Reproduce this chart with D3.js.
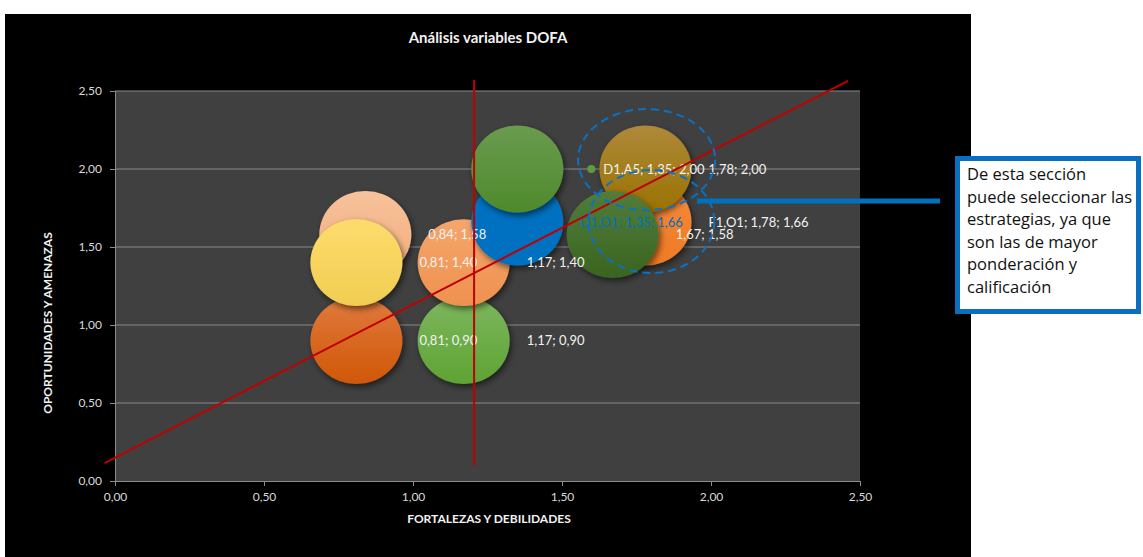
<!DOCTYPE html>
<html>
<head>
<meta charset="utf-8">
<script src="https://cdn.jsdelivr.net/npm/d3@7"></script>
<style>
  html, body { margin: 0; padding: 0; background: #ffffff; }
  svg { display: block; }
</style>
</head>
<body>
<svg id="chart" width="1143" height="557"></svg>
<script>
// DOFA matrix points: strengths/weaknesses (x) vs opportunities/threats (y)
const pointX    = [0.84, 0.81, 0.81, 1.17, 1.17, 1.35, 1.35, 1.78, 1.78, 1.67];
const pointY    = [1.58, 0.90, 1.40, 0.90, 1.40, 1.66, 2.00, 1.66, 2.00, 1.58];
const pointSize = [1, 1, 1, 1, 1, 1, 1, 1, 1, 1];
const pointName = ["", "", "", "", "", "D1,O1", "D1,A5", "F1,O1", "", ""];
const pointColorTop    = ["#f7c29c", "#e07a3e", "#fedc6c", "#7db75f", "#f5a66c", "#0071c1", "#6a9b4e", "#f68b3a", "#ae893a", "#517d3d"];
const pointColorBottom = ["#f2ab79", "#d05706", "#f1cd52", "#5ea332", "#ef914f", "#0070c0", "#4e8a2c", "#ef7a24", "#9a7200", "#3a6420"];

const tickValues = [0, 0.5, 1.0, 1.5, 2.0, 2.5];

// Reference lines of the quadrant split (data coordinates)
const splitLineV = [[1.205, 0.10], [1.205, 2.57]];
const trendLine  = [[-0.035, 0.115], [2.46, 2.565]];

// Dashed highlight rings around the selected strategies (data coordinates)
const ringCx = [1.784, 1.80];
const ringCy = [2.06, 1.663];
const ringRx = [0.23, 0.211];
const ringRy = [0.324, 0.33];

const calloutLines = ["De esta sección", "puede seleccionar las", "estrategias, ya que",
                      "son las de mayor", "ponderación y", "calificación"];

const fmt = v => d3.format(".2f")(v).replace(".", ",");

const svg = d3.select("#chart");
const defs = svg.append("defs");

// chart background
svg.append("rect").attr("x", 5).attr("y", 14).attr("width", 966).attr("height", 543).attr("fill", "#000000");

const x = d3.scaleLinear().domain([0, 2.5]).range([115, 860]);
const y = d3.scaleLinear().domain([0, 2.5]).range([481, 91]);
const r = d3.scaleSqrt().domain([0, d3.max(pointSize)]).range([0, 46]);
const aspect = 0.945;

// plot area
svg.append("rect")
  .attr("x", x(0)).attr("y", y(2.5))
  .attr("width", x(2.5) - x(0)).attr("height", y(0) - y(2.5))
  .attr("fill", "#404040");

// gridlines
svg.append("g").selectAll("line").data(tickValues.slice(1)).join("line")
  .attr("x1", x(0)).attr("x2", x(2.5))
  .attr("y1", d => y(d)).attr("y2", d => y(d))
  .attr("stroke", "#8a8a8a").attr("stroke-width", 1);

// axes
const xAxis = d3.axisBottom(x).tickValues(tickValues).tickFormat(fmt).tickSize(5).tickPadding(6);
const yAxis = d3.axisLeft(y).tickValues(tickValues).tickFormat(fmt).tickSize(5).tickPadding(8);

const gx = svg.append("g").attr("transform", `translate(0,${y(0)})`).call(xAxis);
const gy = svg.append("g").attr("transform", `translate(${x(0)},0)`).call(yAxis);
[gx, gy].forEach(g => {
  g.select(".domain").attr("stroke", "#8c8c8c");
  g.selectAll(".tick line").attr("stroke", "#8c8c8c");
  g.selectAll(".tick text")
    .attr("fill", "#d9d9d9")
    .style("font-family", "Lato, 'Open Sans', sans-serif")
    .style("font-size", "12px");
});

// titles
svg.append("text").attr("x", 488).attr("y", 43).attr("text-anchor", "middle")
  .attr("fill", "#f2f2f2").style("font-family", "Lato, sans-serif")
  .style("font-weight", "bold").style("font-size", "15px")
  .text("Análisis variables DOFA");

svg.append("text").attr("x", 489).attr("y", 523).attr("text-anchor", "middle")
  .attr("fill", "#f2f2f2").style("font-family", "Lato, sans-serif")
  .style("font-weight", "bold").style("font-size", "12px")
  .text("FORTALEZAS Y DEBILIDADES");

svg.append("text").attr("transform", "translate(52,323) rotate(-90)").attr("text-anchor", "middle")
  .attr("fill", "#f2f2f2").style("font-family", "Lato, sans-serif")
  .style("font-weight", "bold").style("font-size", "12px")
  .text("OPORTUNIDADES Y AMENAZAS");

// bubble shading and shadow
const shadow = defs.append("filter").attr("id", "bshadow")
  .attr("x", "-30%").attr("y", "-30%").attr("width", "170%").attr("height", "170%");
shadow.append("feDropShadow").attr("dx", 2).attr("dy", 3).attr("stdDeviation", 3)
  .attr("flood-color", "#000").attr("flood-opacity", 0.55);

const idx = d3.range(pointX.length);
idx.forEach(i => {
  const g = defs.append("linearGradient").attr("id", "bg" + i)
    .attr("x1", 0).attr("y1", 0).attr("x2", 0).attr("y2", 1);
  g.append("stop").attr("offset", "0%").attr("stop-color", pointColorTop[i]);
  g.append("stop").attr("offset", "100%").attr("stop-color", pointColorBottom[i]);
});

svg.append("g").selectAll("ellipse").data(idx).join("ellipse")
  .attr("cx", i => x(pointX[i]))
  .attr("cy", i => y(pointY[i]))
  .attr("rx", i => r(pointSize[i]))
  .attr("ry", i => r(pointSize[i]) * aspect)
  .attr("fill", i => `url(#bg${i})`)
  .attr("filter", "url(#bshadow)");

// data labels
const labelG = svg.append("g")
  .style("font-family", "Lato, 'Open Sans', sans-serif").style("font-size", "13px");

labelG.selectAll("text").data(idx).join("text")
  .attr("x", i => x(pointX[i]) + (pointName[i] === "D1,A5" ? 86 : 63))
  .attr("y", i => y(pointY[i]) + 4.5)
  .attr("fill", i => pointName[i] === "D1,O1" ? "#0070c0" : "#f2f2f2")
  .text(i => (pointName[i] ? pointName[i] + "; " : "") + fmt(pointX[i]) + "; " + fmt(pointY[i]));

// legend key shown beside the D1,A5 label
idx.filter(i => pointName[i] === "D1,A5").forEach(i => {
  labelG.append("circle").attr("cx", x(pointX[i]) + 74).attr("cy", y(pointY[i]))
    .attr("r", 4).attr("fill", "#5f9a3c");
});

// quadrant split lines
const line = d3.line().x(d => x(d[0])).y(d => y(d[1]));
[splitLineV, trendLine].forEach(pts => {
  svg.append("path").attr("d", line(pts))
    .attr("stroke", "#c00000").attr("stroke-width", 2).attr("fill", "none");
});

// dashed rings
svg.append("g").selectAll("ellipse").data(d3.range(ringCx.length)).join("ellipse")
  .attr("cx", i => x(ringCx[i])).attr("cy", i => y(ringCy[i]))
  .attr("rx", i => x(ringRx[i]) - x(0)).attr("ry", i => y(0) - y(ringRy[i]))
  .attr("fill", "none").attr("stroke", "#0a72c4").attr("stroke-width", 2)
  .attr("stroke-dasharray", "8,5");

// connector to callout
svg.append("line").attr("x1", 697).attr("x2", 940).attr("y1", 201).attr("y2", 201)
  .attr("stroke", "#0070c0").attr("stroke-width", 5);

// callout box
svg.append("rect").attr("x", 957.5).attr("y", 158.5).attr("width", 181).attr("height", 153)
  .attr("fill", "#ffffff").attr("stroke", "#0a6fc0").attr("stroke-width", 5);

svg.append("text")
  .style("font-family", "'Open Sans', sans-serif").style("font-size", "16.5px")
  .attr("fill", "#111")
  .selectAll("tspan").data(calloutLines).join("tspan")
  .attr("x", 967).attr("y", (d, i) => 180 + i * 22.5)
  .text(d => d);
</script>
</body>
</html>
